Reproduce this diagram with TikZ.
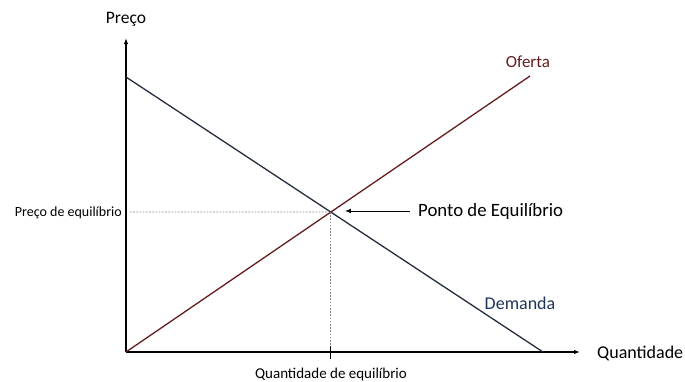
\documentclass[tikz,border=0pt]{standalone}
\usepackage{fontspec}
\setmainfont{Carlito}
\usetikzlibrary{arrows.meta}

\definecolor{ofertared}{RGB}{100,28,30}
\definecolor{demandablue}{RGB}{30,52,90}
\definecolor{linhadem}{RGB}{35,45,60}

\tikzset{
  eixo/.style = {black, line width = 1.2pt, -{Latex[length = 6pt, width = 4.5pt]}},
  curva/.style = {line width = 1.3pt},
  guia/.style = {gray, dash pattern = on 1.6pt off 1.6pt, line width = 0.8pt},
  rotulo/.style = {inner sep = 0pt}
}

\begin{document}
\begin{tikzpicture}[x = 1pt, y = -1pt]
\useasboundingbox (0, 0) rectangle (685, 381);
% eixos
\coordinate (O) at (126, 352);
\coordinate (ytop) at (126, 38);
\coordinate (xend) at (580, 352);
\draw[eixo] (O) -- (ytop);
\draw[eixo] (O) -- (xend);
% curvas
\coordinate (dstart) at (126, 77);
\coordinate (dend) at (543, 352);
\coordinate (send) at (530, 76);
\draw[curva, linhadem] (dstart) -- (dend);
\draw[curva, ofertared] (O) -- (send);
\coordinate (eq) at (intersection of dstart--dend and O--send);
% guias
\coordinate (peq) at (130, 212);
\coordinate (qeq) at (eq |- O);
\draw[guia] (peq) -- (eq);
\draw[guia] (eq) -- (qeq);
\draw[black, line width = 1.2pt] ([yshift = 6pt]qeq) -- ([yshift = -7pt]qeq);
% textos
\node[rotulo] (preco) at (126, 19) {\fontsize{17.5}{20}\selectfont Preço};
\node[rotulo] (quant) [anchor = west] at (597, 353) {\fontsize{18}{20}\selectfont Quantidade};
\node[rotulo, ofertared] (oferta) at (528, 62) {\fontsize{17}{20}\selectfont Oferta};
\node[rotulo, demandablue] (demanda) at (520, 303) {\fontsize{18}{20}\selectfont Demanda};
\node[rotulo] (ponto) [anchor = west] at (418, 211) {\fontsize{18.8}{20}\selectfont Ponto de Equilíbrio};
\node[rotulo] (precoeq) [anchor = east] at (122, 213) {\fontsize{14}{16}\selectfont Preço de equilíbrio};
\node[rotulo] (quanteq) at (331, 374) {\fontsize{15}{17}\selectfont Quantidade de equilíbrio};
\draw[black, line width = 0.9pt, -{Latex[length = 6pt, width = 4.5pt]}] ([xshift = -8pt]ponto.west) -- ([xshift = 14pt]eq |- ponto.west);
\end{tikzpicture}
\end{document}
